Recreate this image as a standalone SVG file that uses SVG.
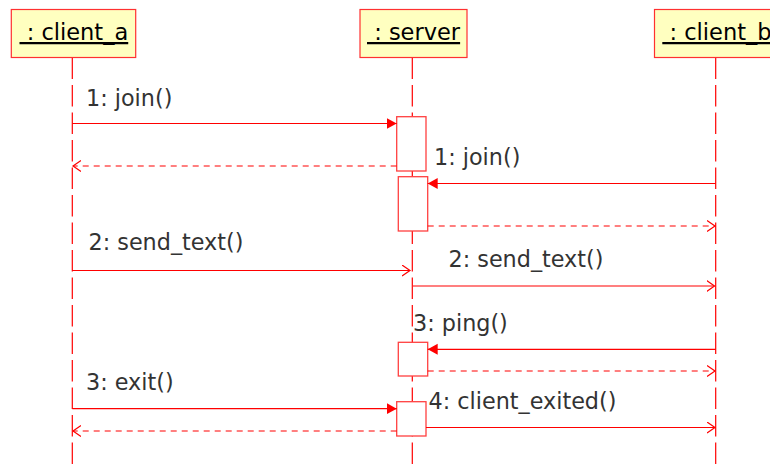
<svg xmlns="http://www.w3.org/2000/svg" width="770" height="468" viewBox="0 0 770 468">
  <style>
    .head { fill: #ffffc0; stroke: #ff3030; stroke-width: 1.2; }
    .title { font-family: "DejaVu Sans", sans-serif; font-size: 22.5px; fill: #000000; text-decoration: underline; }
    .life { stroke: #ff0000; stroke-width: 1.2; stroke-dasharray: 21.5 6; fill: none; }
    .act { fill: #ffffff; stroke: #ff4040; stroke-width: 1.3; }
    .msg { stroke: #ff0000; stroke-width: 1.2; fill: none; }
    .ret { stroke: #ff0000; stroke-width: 1.2; fill: none; stroke-dasharray: 6 5; }
    .lbl { font-family: "DejaVu Sans", sans-serif; font-size: 22.3px; fill: #333333; }
  </style>
  <defs>
    <marker id="filled" markerWidth="11" markerHeight="12" refX="10" refY="6" orient="auto" markerUnits="userSpaceOnUse">
      <path d="M0,0.5 L10,6 L0,11.5 Z" fill="#ff0000"/>
    </marker>
    <marker id="open" markerWidth="10" markerHeight="12" refX="8" refY="6" orient="auto" markerUnits="userSpaceOnUse">
      <path d="M0,0.5 L8,6 L0,11.5" fill="none" stroke="#ff0000" stroke-width="1.2"/>
    </marker>
  </defs>

  <!-- lifelines -->
  <g id="lifelines">
    <line class="life" x1="72.3" y1="57.5" x2="72.3" y2="468"/>
    <line class="life" x1="412.3" y1="57.5" x2="412.3" y2="468"/>
    <line class="life" x1="715.7" y1="57.5" x2="715.7" y2="468"/>
  </g>

  <!-- participants -->
  <g id="client_a">
    <rect class="head" x="11.3" y="9.5" width="124.4" height="48"/>
    <text class="title" x="19.5" y="40" xml:space="preserve"> : client_a</text>
  </g>
  <g id="server">
    <rect class="head" x="360" y="9.5" width="107" height="48"/>
    <text class="title" x="367" y="40" xml:space="preserve"> : server</text>
  </g>
  <g id="client_b">
    <rect class="head" x="654.5" y="9.5" width="124.4" height="48"/>
    <text class="title" x="662.3" y="40" xml:space="preserve"> : client_b</text>
  </g>

  <!-- activations on the server lifeline -->
  <g id="server_activations">
    <rect class="act" x="396.7" y="116.7" width="29.3" height="54.3"/>
    <rect class="act" x="398.3" y="176.7" width="29.4" height="54.3"/>
    <rect class="act" x="398.3" y="342.3" width="29.4" height="33.7"/>
    <rect class="act" x="396.7" y="401.7" width="29.3" height="34.3"/>
  </g>

  <!-- messages -->
  <g id="connectors">
    <line class="msg" x1="72.3" y1="123.5" x2="396.7" y2="123.5" marker-end="url(#filled)"/>
    <line class="ret" x1="396.7" y1="166" x2="73" y2="166" marker-end="url(#open)"/>
    <line class="msg" x1="715.7" y1="183.5" x2="427.7" y2="183.5" marker-end="url(#filled)"/>
    <line class="ret" x1="427.7" y1="226" x2="715" y2="226" marker-end="url(#open)"/>
    <line class="msg" x1="72.3" y1="270.5" x2="410" y2="270.5" marker-end="url(#open)"/>
    <line class="msg" x1="413" y1="286" x2="714.5" y2="286" marker-end="url(#open)"/>
    <line class="msg" x1="715.7" y1="349.3" x2="427.7" y2="349.3" marker-end="url(#filled)"/>
    <line class="ret" x1="427.7" y1="371" x2="715" y2="371" marker-end="url(#open)"/>
    <line class="msg" x1="72.3" y1="408.7" x2="396.7" y2="408.7" marker-end="url(#filled)"/>
    <line class="msg" x1="426" y1="427.5" x2="715" y2="427.5" marker-end="url(#open)"/>
    <line class="ret" x1="396.7" y1="431" x2="73" y2="431" marker-end="url(#open)"/>
  </g>

  <!-- message labels -->
  <g id="labels">
    <text class="lbl" x="86" y="105.5">1: join()</text>
    <text class="lbl" x="434" y="165">1: join()</text>
    <text class="lbl" x="88.5" y="250">2: send_text()</text>
    <text class="lbl" x="448.5" y="267">2: send_text()</text>
    <text class="lbl" x="413" y="330.5">3: ping()</text>
    <text class="lbl" x="86" y="390">3: exit()</text>
    <text class="lbl" x="428.5" y="409.3">4: client_exited()</text>
  </g>
</svg>
